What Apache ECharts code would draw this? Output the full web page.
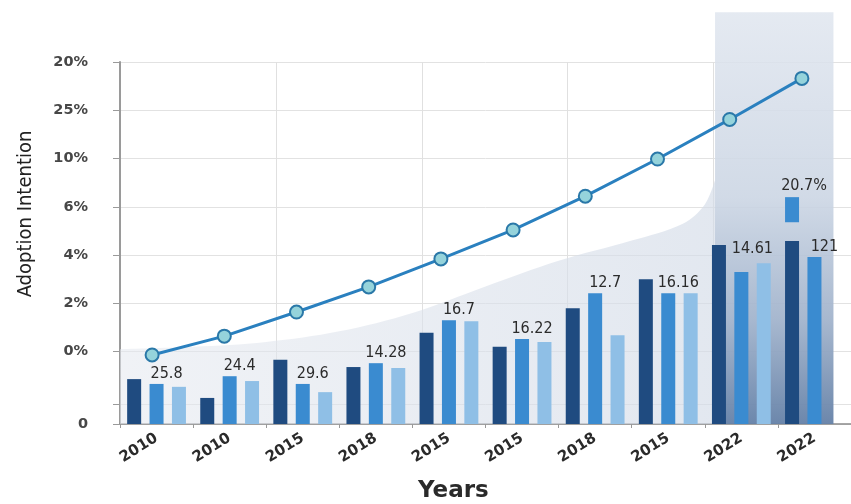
<!DOCTYPE html>
<html>
<head>
<meta charset="utf-8">
<script src="https://cdn.jsdelivr.net/npm/echarts@6/dist/echarts.min.js"></script>
<style>html,body{margin:0;padding:0;background:#fff;}#c{width:851px;height:504px;}</style>
</head>
<body>
<div id="c"></div>
<script>
// ---- data ----
const categories = ['2010', '2010', '2015', '2018', '2015', '2015', '2018', '2015', '2022', '2022'];
const yTickValues = [0, 0.41, 1.5, 2.5, 3.5, 4.5, 5.5, 6.5, 7.5];
const yTickLabels = ['0', '', '0%', '2%', '4%', '6%', '10%', '25%', '20%'];
const darkValues = [0.93, 0.54, 1.33, 1.18, 1.89, 1.60, 2.40, 3.00, 3.71, 3.79];
const mediumValues = [0.83, 0.99, 0.83, 1.26, 2.15, 1.76, 2.71, 2.71, 3.15, 3.46];
const lightValues = [0.77, 0.89, 0.66, 1.16, 2.13, 1.70, 1.84, 2.71, 3.33, null];
const mediumLabels = ['25.8', '24.4', '29.6', '14.28', '16.7', '16.22', '12.7', '16.16', '14.61', '121'];
const gapValues = [null, null, null, null, null, null, null, null, null, 0.39];
const floatValues = [null, null, null, null, null, null, null, null, null, 0.52];
const floatLabel = '20.7%';
const trendValues = [1.43, 1.82, 2.32, 2.84, 3.42, 4.02, 4.72, 5.49, 6.31, 7.16];
const shadeCurve = [[0, 1.55], [1, 1.6], [2, 1.7], [3, 1.92], [4, 2.3], [5, 2.85], [6, 3.38], [7, 3.8], [7.7, 4.15], [8.0, 4.55], [8.14, 5.05], [8.15, 0]];

// ---- decoration (layout) ----
const vGridAt = [2.14, 4.13, 6.12, 8.12];
const highlight = { x0: 8.14, x1: 9.76, yTop: 8.53 };

const labelFont = "'DejaVu Sans Condensed', 'DejaVu Sans', sans-serif";

const chart = echarts.init(document.getElementById('c'), null, { renderer: 'canvas' });

const option = {
  animation: false,
  backgroundColor: '#ffffff',
  title: {
    text: 'Years', left: 418, top: 480,
    textStyle: { fontSize: 23, fontWeight: 'bold', color: '#2a2a2a', fontFamily: "'DejaVu Sans', sans-serif" },
    padding: 0
  },
  grid: [
    { left: 120, top: 62, bottom: 80, width: 737.5 },
    { left: 116, top: 62, bottom: 80, width: 722 }
  ],
  xAxis: [
    {
      type: 'category', gridIndex: 0, data: categories, position: 'bottom',
      axisLine: { show: true, lineStyle: { color: '#8a8a8a', width: 1.5 } },
      axisTick: { show: true, length: 4, lineStyle: { color: '#999' } },
      axisLabel: { rotate: 32, margin: 13, color: '#2a2a2a', fontSize: 15, fontWeight: 'bold', fontFamily: "'DejaVu Sans', sans-serif" },
      splitLine: { show: false }
    },
    { type: 'value', gridIndex: 0, position: 'top', min: 0, max: 10, show: false },
    { type: 'category', gridIndex: 1, data: categories, show: false }
  ],
  yAxis: [
    {
      type: 'value', gridIndex: 0, min: 0, max: 7.5,
      axisLine: { show: true, lineStyle: { color: '#9a9a9a', width: 2 } },
      axisTick: { show: true, length: 7, customValues: yTickValues, lineStyle: { color: '#9a9a9a' } },
      axisLabel: {
        customValues: yTickValues, margin: 32, color: '#474747', fontSize: 14.5, fontWeight: 'bold',
        fontFamily: "'DejaVu Sans', sans-serif",
        formatter: function (v) {
          for (let i = 0; i < yTickValues.length; i++) { if (Math.abs(yTickValues[i] - v) < 1e-6) return yTickLabels[i]; }
          return '';
        }
      },
      splitLine: { show: true, lineStyle: { color: '#e2e2e2', width: 1 } },
      name: 'Adoption Intention', nameLocation: 'middle', nameRotate: 90, nameGap: 84,
      nameTextStyle: { fontSize: 20, color: '#222', fontFamily: labelFont, padding: [0, 0, 0, 58] }
    },
    { type: 'value', gridIndex: 1, min: 0, max: 7.5, show: false }
  ],
  series: [
    {
      name: 'shade', type: 'line', xAxisIndex: 1, yAxisIndex: 0, data: shadeCurve,
      smooth: 0.35, symbol: 'none', silent: true, z: 1,
      lineStyle: { width: 0 },
      areaStyle: {
        color: { type: 'linear', x: 0, y: 0, x2: 1, y2: 0, colorStops: [
          { offset: 0, color: 'rgba(228,232,239,0.8)' },
          { offset: 1, color: 'rgba(212,220,232,0.95)' }
        ] }
      },
      markLine: {
        silent: true, symbol: 'none', label: { show: false }, z: 0,
        lineStyle: { color: '#e0e0e0', width: 1, type: 'solid' },
        data: vGridAt.map(function (x) { return { xAxis: x }; })
      }
    },
    {
      name: 'highlight', type: 'custom', xAxisIndex: 1, yAxisIndex: 0, clip: false, silent: true, z: 2,
      data: [[highlight.x0, highlight.x1, highlight.yTop]],
      renderItem: function (params, api) {
        const p0 = api.coord([api.value(0), api.value(2)]);
        const p1 = api.coord([api.value(1), 0]);
        return {
          type: 'rect',
          shape: { x: p0[0], y: p0[1], width: p1[0] - p0[0], height: p1[1] - p0[1] },
          style: {
            fill: { type: 'linear', x: 0, y: 0, x2: 0, y2: 1, colorStops: [
              { offset: 0, color: 'rgba(224,230,239,0.85)' },
              { offset: 0.45, color: 'rgba(204,214,228,0.9)' },
              { offset: 0.75, color: 'rgba(160,178,203,0.93)' },
              { offset: 1, color: 'rgba(102,130,168,0.96)' }
            ] }
          }
        };
      }
    },
    {
      name: 'A', type: 'bar', xAxisIndex: 0, yAxisIndex: 0, stack: 'd', data: darkValues,
      barWidth: 14, barGap: '60%', z: 3,
      itemStyle: { color: '#1f4b80' }
    },
    {
      name: 'gap', type: 'bar', xAxisIndex: 0, yAxisIndex: 0, stack: 'd', data: gapValues,
      barWidth: 14, z: 3, silent: true,
      itemStyle: { color: 'rgba(0,0,0,0)' }
    },
    {
      name: 'top', type: 'bar', xAxisIndex: 0, yAxisIndex: 0, stack: 'd', data: floatValues,
      barWidth: 14, z: 3,
      itemStyle: { color: '#3a8bd0' },
      label: {
        show: true, position: 'top', distance: 3, offset: [12, 0],
        formatter: function () { return floatLabel; },
        color: '#2b2b2b', fontSize: 16, fontFamily: labelFont
      }
    },
    {
      name: 'B', type: 'bar', xAxisIndex: 0, yAxisIndex: 0,
      data: mediumValues.map(function (v, i) {
        return i === 8 ? { value: v, label: { offset: [11, -13] } } : v;
      }),
      barWidth: 14, barGap: '60%', z: 3,
      itemStyle: { color: '#3a8bd0' },
      label: {
        show: true, position: 'top', distance: 2, offset: [10, 0],
        formatter: function (p) { return mediumLabels[p.dataIndex]; },
        color: '#2b2b2b', fontSize: 16, fontFamily: labelFont
      }
    },
    {
      name: 'C', type: 'bar', xAxisIndex: 0, yAxisIndex: 0, data: lightValues,
      barWidth: 14, barGap: '60%', z: 3,
      itemStyle: { color: '#8fbfe6' }
    },
    {
      name: 'trend', type: 'line', xAxisIndex: 2, yAxisIndex: 1, data: trendValues, z: 5,
      symbol: 'circle', symbolSize: 13,
      lineStyle: { color: '#2a80bf', width: 3 },
      itemStyle: { color: '#95d3db', borderColor: '#2a78a8', borderWidth: 2 }
    }
  ]
};
chart.setOption(option);
</script>
</body>
</html>
